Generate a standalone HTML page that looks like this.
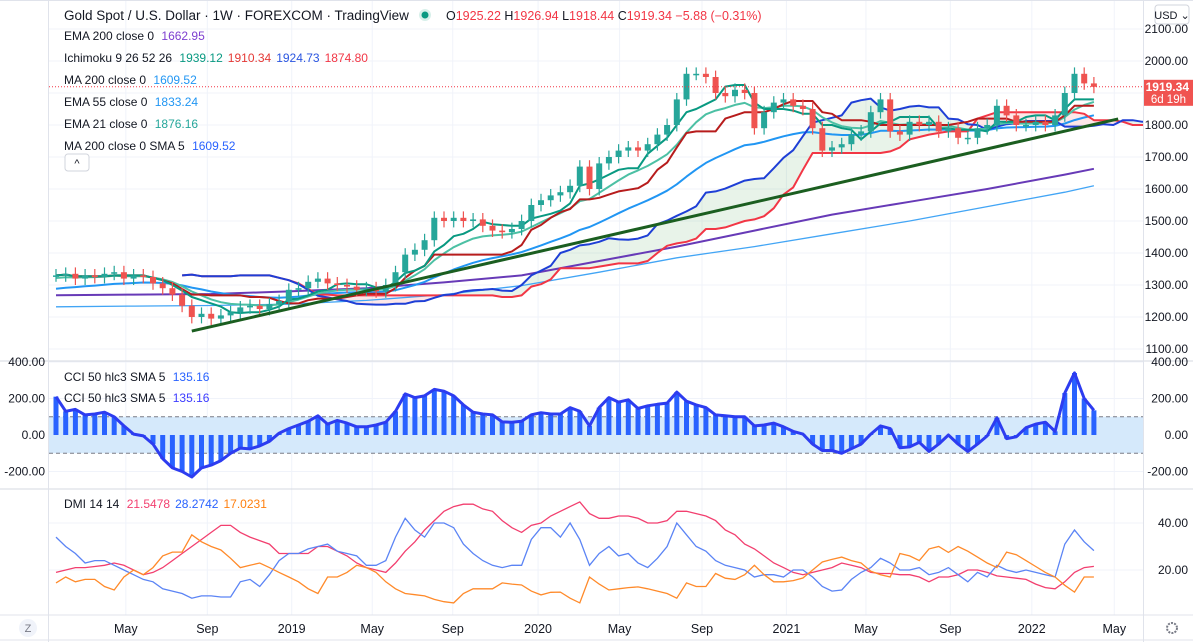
<!DOCTYPE html>
<html><head><meta charset="utf-8"><style>
body{margin:0;background:#fff;font-family:"Liberation Sans",sans-serif;}
svg{display:block}
text{font-family:"Liberation Sans",sans-serif;}
</style></head><body>
<svg id="chart" width="1193" height="642" viewBox="0 0 1193 642" xmlns="http://www.w3.org/2000/svg">
<rect x="0" y="0" width="1193" height="642" fill="#fff"/>
<g id="grid"></g>
<g id="cciBand"></g>
<g id="main"></g>
<g id="cci"></g>
<g id="dmi"></g>
<g id="axes"></g>
<g id="legend" font-size="12" fill="#131722">
<text x="64" y="20" font-size="13.5">Gold Spot / U.S. Dollar · 1W · FOREXCOM · TradingView</text>
<circle cx="425" cy="15" r="6" fill="#d7f0ea"/>
<circle cx="425" cy="15" r="3.5" fill="#089981"/>
<text x="446" y="20" font-size="12.5"><tspan fill="#131722">O</tspan><tspan fill="#f23645">1925.22</tspan><tspan fill="#131722"> H</tspan><tspan fill="#f23645">1926.94</tspan><tspan fill="#131722"> L</tspan><tspan fill="#f23645">1918.44</tspan><tspan fill="#131722"> C</tspan><tspan fill="#f23645">1919.34 −5.88 (−0.31%)</tspan></text>
<text x="64" y="40">EMA 200 close 0 <tspan fill="#7e3fd0" dx="4">1662.95</tspan></text>
<text x="64" y="62">Ichimoku 9 26 52 26 <tspan fill="#089981" dx="4">1939.12</tspan><tspan fill="#e53935" dx="5">1910.34</tspan><tspan fill="#2a55e0" dx="5">1924.73</tspan><tspan fill="#f23645" dx="5">1874.80</tspan></text>
<text x="64" y="84">MA 200 close 0 <tspan fill="#2196f3" dx="4">1609.52</tspan></text>
<text x="64" y="106">EMA 55 close 0 <tspan fill="#2196f3" dx="4">1833.24</tspan></text>
<text x="64" y="128">EMA 21 close 0 <tspan fill="#26a69a" dx="4">1876.16</tspan></text>
<text x="64" y="150">MA 200 close 0 SMA 5 <tspan fill="#2962ff" dx="4">1609.52</tspan></text>
<rect x="65" y="154" width="24" height="17" rx="3" fill="#fff" stroke="#d1d4dc"/>
<text x="77" y="167" text-anchor="middle" font-size="11">^</text>
<text x="64" y="381">CCI 50 hlc3 SMA 5 <tspan fill="#2962ff" dx="4">135.16</tspan></text>
<text x="64" y="402">CCI 50 hlc3 SMA 5 <tspan fill="#3d3dff" dx="4">135.16</tspan></text>
<text x="64" y="508">DMI 14 14 <tspan fill="#f23f6f" dx="4">21.5478</tspan><tspan fill="#2962ff" dx="5">28.2742</tspan><tspan fill="#ff7f0e" dx="5">17.0231</tspan></text>
</g>
</svg>
<script>
// ---- data (biweekly samples, Feb 2018 - Mar 2022) ----
const closes=[1330,1335,1320,1330,1325,1335,1340,1320,1330,1325,1305,1290,1270,1235,1200,1210,1195,1205,1215,1230,1235,1225,1240,1250,1285,1290,1310,1320,1305,1300,1295,1285,1290,1280,1300,1340,1395,1410,1440,1510,1500,1510,1500,1505,1485,1470,1465,1475,1500,1550,1565,1580,1590,1610,1670,1600,1680,1700,1720,1730,1720,1740,1770,1800,1880,1960,1960,1950,1900,1890,1910,1900,1790,1840,1870,1880,1860,1850,1790,1720,1730,1740,1770,1780,1840,1880,1780,1770,1810,1800,1810,1780,1790,1760,1760,1790,1800,1860,1830,1800,1800,1810,1800,1830,1900,1960,1930,1919.34];
const ema200Idx=[0,8,16,24,32,40,48,56,64,72,80,88,96,104,107];
const ema200Vals=[1268,1270,1272,1280,1290,1308,1330,1375,1420,1470,1520,1560,1600,1645,1663];
const ma200Idx=[0,8,16,24,32,40,48,56,64,72,80,88,96,104,107];
const ma200Vals=[1232,1234,1236,1240,1252,1270,1298,1340,1385,1420,1460,1500,1545,1590,1610];
const ema21Seed=1320, ema55Seed=1285;
const trendIdx=[14,109.5];
const trendPrice=[1156,1819];
const cciVals=[210,130,140,110,115,125,100,50,5,-5,-50,-130,-180,-200,-230,-180,-165,-140,-100,-72,-76,-60,-35,10,35,55,75,105,60,80,65,45,45,55,70,130,225,205,215,250,240,215,165,125,115,110,72,70,75,110,122,115,115,150,130,50,150,205,180,193,145,160,168,175,235,185,165,150,110,105,100,100,50,55,65,45,20,5,-50,-85,-85,-100,-75,-50,5,50,35,-70,-65,-40,-90,-50,0,-50,-90,-50,-5,94,-20,-10,40,60,70,20,230,340,200,135.16];
const diPlus=[34,30,27,23,24,24,22,20,18,16,15,12,11,10,8,9,9,8.5,8.5,15,16,13,18,24,27,27,29,30,31,28,27,26,22,22,24,34,42,37,34,40,40,38,31,27,24,22,21,22,22,33,38,38,34,40,33,22,27,30,26,27,23,21,25,30,40,35,30,28,24,22,21,20,17,18,18,17,20,20,17,13,11,11.5,16,19,21,25,23,20,20,21,18,19,21,18,15,19,17,22,20,19,20,19,18,17,31,37,32,28.27];
const diMinus=[19,20,21,21,21.5,22,23,22,20,18,19,21,24,27,30,33,36,39,39,36,34,32.5,31,27,27,27,27,30,30,28,26,23,21,20,19,23,28,32,37,41,45,47,48,48,46,45,41,38,36,39,40,43,45,47,49,44,42,42,43,43,42,40,40,41,45,45,44,43,41,37,35,31,29,26,23,21,19,18,19,20,21,23,22,21,19,18.5,18.5,18,18,17,15,17,17,18,20,20,19,17.5,17,16.5,16,14,12.5,12,15,19,21,21.55];
const adx=[14.5,17,15,16,16,13,11.5,17,20,18,21,26,27.6,27.6,35,32,30,28.5,25,21,22,23,21,19,17,15,12,10,17,17,19,22,21,19,15,12,10,9.5,9,7.5,6.5,6,10,12,12,12,14.5,14,13.6,11,9.4,10.5,10.6,8,6,17,14,11.5,12,12.5,12.8,12,11,10,8,14.5,13,13,18.5,16.5,16,18,22,18,15,15,15.5,16.6,20,23.4,24.5,25.5,24,23,19.5,18,17,27,26,24,29,30,27.5,30,28,25.5,23,21,27.6,26.5,24,21.5,19,17,13.5,10.6,17,17.02];
const priceTicks=[2100,2000,1900,1800,1700,1600,1500,1400,1300,1200,1100];
const cciTicks=[400,200,0,-200];
const dmiTicks=[40,20];
const timeLabels=["May","Sep","2019","May","Sep","2020","May","Sep","2021","May","Sep","2022","May"];
const timeIdx=[7.2,15.6,24.3,32.6,40.9,49.7,58.1,66.6,75.3,83.5,92.2,100.6,109.1];

// ---- scales ----
const X0=56, STEP=9.7, PL=49, PR=1143;
const xI=i=>X0+i*STEP;
const yP=p=>29+(2100-p)*0.32;
const yC=v=>435-v*0.1825;
const yD=v=>617-v*2.35;
const NS="http://www.w3.org/2000/svg";
function mk(tag,attrs,parent){const e=document.createElementNS(NS,tag);for(const k in attrs)e.setAttribute(k,attrs[k]);parent.appendChild(e);return e;}
const G=id=>document.getElementById(id);

const defs=mk('defs',{},G('chart'));
const cp=mk('clipPath',{id:'clipMain'},defs);mk('rect',{x:PL,y:26,width:PR-PL,height:334},cp);
const cp2=mk('clipPath',{id:'clipCci'},defs);mk('rect',{x:PL,y:362,width:PR-PL,height:125},cp2);
const cp3=mk('clipPath',{id:'clipDmi'},defs);mk('rect',{x:PL,y:490,width:PR-PL,height:124},cp3);
G('main').setAttribute('clip-path','url(#clipMain)');
G('cci').setAttribute('clip-path','url(#clipCci)');
G('dmi').setAttribute('clip-path','url(#clipDmi)');

// grid
const grid=G('grid');
timeIdx.forEach((t,k)=>{const l=mk('line',{x1:xI(t),x2:xI(t),y1:0,y2:615,stroke:'#f0f3fa'},grid);

});
priceTicks.forEach(p=>{const l=mk('line',{x1:PL,x2:PR,y1:yP(p),y2:yP(p),stroke:'#f0f3fa'},grid);

});
[400,200,-200].forEach(v=>{const l=mk('line',{x1:PL,x2:PR,y1:yC(v),y2:yC(v),stroke:'#f0f3fa'},grid);

});
dmiTicks.forEach(v=>{const l=mk('line',{x1:PL,x2:PR,y1:yD(v),y2:yD(v),stroke:'#f0f3fa'},grid);

});

// ---- main pane ----
const main=G('main');
function linePath(vals,idxFn,yFn){let d='';vals.forEach((v,k)=>{if(v==null)return;d+=(d?'L':'M')+xI(idxFn(k)).toFixed(1)+','+yFn(v).toFixed(1);});return d;}
function roll(arr,i,n){let hi=-1e9,lo=1e9;for(let j=Math.max(0,i-n+1);j<=i;j++){const o=j>0?arr[j-1]:arr[j];hi=Math.max(hi,arr[j],o);lo=Math.min(lo,arr[j],o);}return [hi+10,lo-10];}
const N=closes.length;
const tenkan=closes.map((c,i)=>{const r=roll(closes,i,5);return (r[0]+r[1])/2;});
const kijun=closes.map((c,i)=>{const r=roll(closes,i,13);return (r[0]+r[1])/2;});
const spanB0=closes.map((c,i)=>{const r=roll(closes,i,26);return (r[0]+r[1])/2;});
const SH=13;
const spanA=[],spanB=[];
for(let i=0;i<N;i++){spanA[i+SH]=(tenkan[i]+kijun[i])/2;spanB[i+SH]=spanB0[i];}
for(let i=SH;i<N+SH-1;i++){
  const a1=spanA[i],a2=spanA[i+1],b1=spanB[i],b2=spanB[i+1];
  const up=(a1+a2)>=(b1+b2);
  const pg=mk('polygon',{points:`${xI(i)},${yP(a1)} ${xI(i+1)},${yP(a2)} ${xI(i+1)},${yP(b2)} ${xI(i)},${yP(b1)}`,fill:up?'rgba(67,160,71,0.12)':'rgba(242,54,69,0.12)'},main);
  
  
}
const a21=2/11.5,a55=2/28.5;let e21=ema21Seed,e55=ema55Seed;const ema21=[],ema55=[];
closes.forEach(c=>{e21=e21+a21*(c-e21);e55=e55+a55*(c-e55);ema21.push(e21);ema55.push(e55);});
function addLine(d,color,w,name){const p=mk('path',{d:d,fill:'none',stroke:color,'stroke-width':w,'stroke-linejoin':'round'},main);return p;}
addLine(linePath(ma200Vals,k=>ma200Idx[k],yP),'#42a5f5',1.3,'ma200-line');
addLine(linePath(ema200Vals,k=>ema200Idx[k],yP),'#673ab7',2,'ema200-line');
addLine(linePath(ema55,k=>k,yP),'#2196f3',2,'ema55-line');
addLine(linePath(spanB,k=>k,yP),'#f23645',2,'ichimoku-span-b');
addLine(linePath(spanA,k=>k,yP),'#1e3fd6',2,'ichimoku-span-a');
addLine(linePath(ema21,k=>k,yP),'#4cc0a4',2,'ema21-line');
addLine(linePath(kijun,k=>k,yP),'#b71c1c',2,'ichimoku-base-line');
addLine(linePath(tenkan,k=>k,yP),'#089981',2,'ichimoku-conversion-line');
closes.forEach((c,i)=>{
  const o=i>0?closes[i-1]:c;const up=c>=o;const col=up?'#26a69a':'#ef5350';
  const hi=Math.max(o,c)+20,lo=Math.min(o,c)-20;const x=xI(i);
  const w=mk('line',{x1:x,x2:x,y1:yP(hi),y2:yP(lo),stroke:col,'stroke-width':1.2},main);
  
  
  const top=yP(Math.max(o,c)),h=Math.max(1.5,Math.abs(yP(o)-yP(c)));
  const b=mk('rect',{x:x-3,y:top,width:6,height:h,fill:col},main);
  
  
});
const tl=mk('line',{x1:xI(trendIdx[0]),y1:yP(trendPrice[0]),x2:xI(trendIdx[1]),y2:yP(trendPrice[1]),stroke:'#1b5e20','stroke-width':3},main);


const lp=mk('line',{x1:PL,x2:PR,y1:yP(closes[N-1]),y2:yP(closes[N-1]),stroke:'#f23645','stroke-dasharray':'1 2'},main);



// ---- CCI pane ----
const band=G('cciBand');
const br=mk('rect',{x:PL,y:yC(100),width:PR-PL,height:yC(-100)-yC(100),fill:'#d5e9fb'},band);


[100,-100].forEach(v=>{const l=mk('line',{x1:PL,x2:PR,y1:yC(v),y2:yC(v),stroke:'#787b86','stroke-dasharray':'4 3'},band);

});
const cci=G('cci');
cciVals.forEach((v,i)=>{const b=mk('line',{x1:xI(i),x2:xI(i),y1:yC(0),y2:yC(v),stroke:'#2962ff','stroke-width':5},cci);

});
const cl=mk('path',{d:linePath(cciVals,k=>k,yC),fill:'none',stroke:'#2d3cf0','stroke-width':3,'stroke-linejoin':'round'},cci);



// ---- DMI pane ----
const dmi=G('dmi');
[[diMinus,'#f23f6f','dmi-minus-di'],[diPlus,'#5b84f5','dmi-plus-di'],[adx,'#ff8a2a','dmi-adx']].forEach(s=>{
  const p=mk('path',{d:linePath(s[0],k=>k,yD),fill:'none',stroke:s[1],'stroke-width':1.3},dmi);
  
  
});

// ---- axes ----
const ax=G('axes');
function sep(x1,y1,x2,y2,name,c){const l=mk('line',{x1,y1,x2,y2,stroke:c||'#e0e3eb','stroke-width':1},ax);}
sep(0,0.5,1193,0.5,'top-border');
sep(0,361,PR+50,361,'pane-separator-1','#d6d9e0');
sep(0,489,PR+50,489,'pane-separator-2','#d6d9e0');
sep(0,615,1193,615,'time-axis-border');
sep(PL-0.5,0,PL-0.5,642,'left-axis-border');
sep(PR+0.5,0,PR+0.5,642,'right-axis-border');
sep(0,640,1193,640,'bottom-border');
function txt(x,y,s,anchor,name,color,size){const t=mk('text',{x,y,'text-anchor':anchor,'font-size':size||12,fill:color||'#131722'},ax);t.textContent=s;return t;}
priceTicks.forEach(p=>txt(1188,yP(p)+4,p.toFixed(2),'end','price-tick-label'));
cciTicks.forEach(v=>{txt(1188,yC(v)+4,v.toFixed(2),'end','cci-tick-right');txt(45,yC(v)+4,v.toFixed(2),'end','cci-tick-left');});
dmiTicks.forEach(v=>txt(1188,yD(v)+4,v.toFixed(2),'end','dmi-tick-label'));
timeLabels.forEach((s,k)=>txt(xI(timeIdx[k]),633,s,'middle','time-label','#131722',12.5));
const yl=yP(closes[N-1]);
const bd=mk('rect',{x:PR+1,y:yl-7,width:49,height:26,fill:'#f05350'},ax);


txt(1189,yl+4,closes[N-1].toFixed(2),'end','last-price-value','#fff',12).setAttribute('font-weight','bold');
txt(1186,yl+16,'6d 19h','end','bar-countdown','#fff',11.5);
const ub=mk('rect',{x:1155,y:5,width:34,height:19,rx:3,fill:'#fff',stroke:'#d1d4dc'},ax);


txt(1172,19,'USD ⌄','middle','currency-label','#131722',11);
const zb=mk('circle',{cx:28,cy:628,r:9,fill:'#f0f3fa'},ax);


txt(28,632,'Z','middle','zoom-reset-label','#787b86',11);
const gear=mk('circle',{cx:1172,cy:628,r:5,fill:'none',stroke:'#787b86','stroke-width':2,'stroke-dasharray':'2 1.2'},ax);


</script>
</body></html>
